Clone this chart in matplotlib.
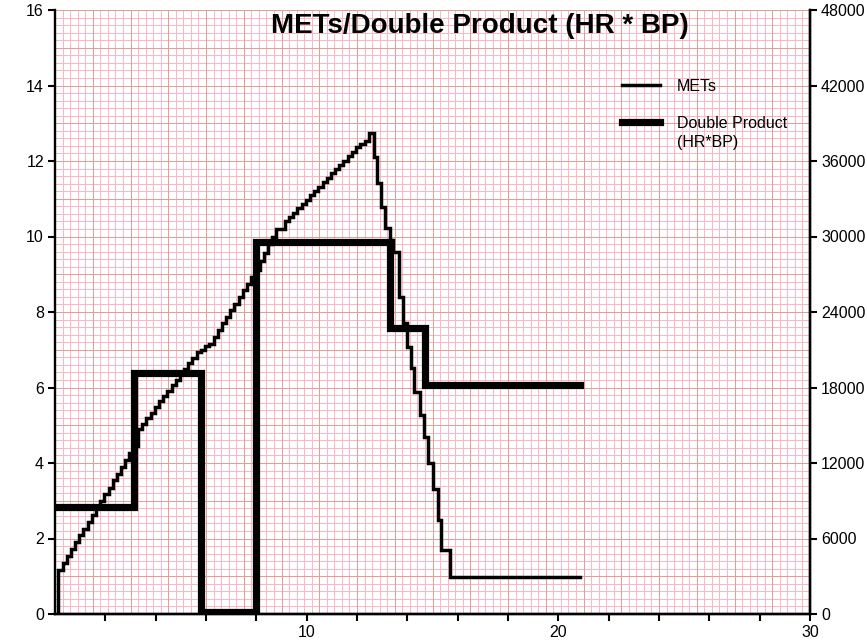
import numpy as np
import matplotlib
matplotlib.use('Agg')
import matplotlib.pyplot as plt

plt.rcParams['font.family'] = ['Liberation Sans', 'DejaVu Sans']

# --- data ---
# METs: each value holds from its time (minutes) until the next time
mets_time = [0.13, 0.13, 0.30, 0.46, 0.63, 0.80, 0.96, 1.13, 1.30, 1.46,
             1.63, 1.80, 1.96, 2.13, 2.30, 2.46, 2.63, 2.80, 2.96, 3.13,
             3.30, 3.46, 3.63, 3.80, 3.96, 4.13, 4.30, 4.46, 4.63, 4.80,
             4.96, 5.13, 5.30, 5.46, 5.63, 5.80, 5.96, 6.13, 6.30, 6.46,
             6.63, 6.80, 6.96, 7.13, 7.30, 7.46, 7.63, 7.80, 7.96, 8.13,
             8.30, 8.46, 8.63, 8.80, 9.13, 9.30, 9.46, 9.63, 9.80, 9.96,
             10.13, 10.30, 10.46, 10.63, 10.80, 10.96, 11.13, 11.30, 11.46, 11.63,
             11.80, 11.96, 12.13, 12.30, 12.46,
             12.66, 12.79, 12.95, 13.12, 13.32, 13.45, 13.68, 13.81, 13.98, 14.14,
             14.27, 14.49, 14.65, 14.84, 15.02, 15.20, 15.34, 15.68, 20.87]
mets_value = [0.00, 1.17, 1.35, 1.53, 1.72, 1.90, 2.08, 2.26, 2.44, 2.63,
              2.81, 2.99, 3.17, 3.35, 3.54, 3.72, 3.90, 4.08, 4.27, 4.45,
              4.90, 5.04, 5.19, 5.33, 5.48, 5.63, 5.77, 5.92, 6.06, 6.21,
              6.36, 6.50, 6.65, 6.79, 6.94, 7.00, 7.10, 7.15, 7.35, 7.52,
              7.70, 7.88, 8.05, 8.22, 8.40, 8.58, 8.75, 8.92, 9.10, 9.35,
              9.55, 9.80, 10.00, 10.20, 10.40, 10.52, 10.63, 10.75, 10.86, 10.98,
              11.09, 11.21, 11.32, 11.44, 11.55, 11.67, 11.78, 11.90, 12.01, 12.13,
              12.24, 12.36, 12.45, 12.52, 12.73,
              12.11, 11.41, 10.79, 10.22, 9.90, 9.60, 8.41, 7.70, 7.08, 6.51,
              5.89, 5.27, 4.70, 3.99, 3.30, 2.49, 1.70, 0.99, 0.99]

# Double product (HR * BP), right axis
dp_time = [0.0, 3.13, 5.80, 8.00, 13.32, 14.71, 20.87]
dp_value = [8500, 19150, 150, 29600, 22700, 18200, 18200]

x_ticks = [2, 4, 6, 8, 10, 12, 14, 16, 18, 20, 22, 24, 26, 28, 30]
x_labels = ['', '', '', '', '10', '', '', '', '', '20', '', '', '', '', '30']
left_ticks = [0, 2, 4, 6, 8, 10, 12, 14, 16]
right_ticks = [0, 6000, 12000, 18000, 24000, 30000, 36000, 42000, 48000]

minor_col = '#ffb6c4'
major_col = '#e49d97'

fig = plt.figure(figsize=(8.67, 6.44), dpi=100)
ax = fig.add_axes([55 / 867, 30 / 644, 755 / 867, 604 / 644])
ax.set_xlim(0, 30)
ax.set_ylim(0, 16)

# ECG-paper style grid, 1px lines
xs = np.arange(0, 30.01, 0.3)
ys = np.arange(0, 16.01, 0.2)
for i, x in enumerate(xs):
    major = i % 5 == 0
    ax.axvline(x, color=major_col if major else minor_col, lw=0.72,
               snap=True, zorder=1 if major else 0.5)
for i, y in enumerate(ys):
    major = i % 5 == 0
    ax.axhline(y, color=major_col if major else minor_col, lw=0.72,
               snap=True, zorder=1 if major else 0.5)

mets_line, = ax.plot(mets_time, mets_value, drawstyle='steps-post', color='black',
                     lw=2.5, solid_joinstyle='miter', zorder=3, label='METs')

ax2 = ax.twinx()
ax2.set_ylim(0, 48000)
dp_line, = ax2.plot(dp_time, dp_value, drawstyle='steps-post', color='black',
                    lw=5.2, solid_joinstyle='miter', zorder=3, label='Double Product')

ax.set_xticks(x_ticks)
ax.set_xticklabels(x_labels)
ax.set_yticks(left_ticks)
ax2.set_yticks(right_ticks)

for a in (ax, ax2):
    a.spines['top'].set_visible(False)
    for s in ('left', 'right', 'bottom'):
        a.spines[s].set_linewidth(1.7)
    a.tick_params(length=5, width=1.5, labelsize=11.5, pad=3)
ax2.spines['left'].set_visible(False)

ax.text(0.563, 0.962, 'METs/Double Product (HR * BP)', transform=ax.transAxes,
        ha='center', va='baseline', fontsize=20, fontweight='bold', zorder=5)

leg = ax2.legend(handles=[mets_line, dp_line], loc='upper left',
                 bbox_to_anchor=(622 / 867, 1 - 79 / 644), bbox_transform=fig.transFigure,
                 frameon=False, fontsize=11.5, handlelength=2.4, handletextpad=1.05,
                 labelspacing=1.35, borderpad=0, borderaxespad=0)
ax2.annotate('(HR*BP)', xy=(0, 0), xycoords=leg.get_texts()[1],
             xytext=(0, -3), textcoords='offset points', ha='left', va='top',
             fontsize=11.5, zorder=10)

fig.savefig('out.png', dpi=100)
